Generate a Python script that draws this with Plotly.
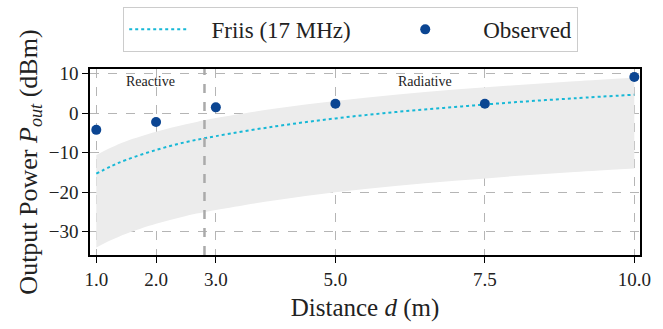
import plotly.graph_objects as go

# ---- data ----
model_d = [1.0, 1.25, 1.5, 2.0, 2.5, 3.0, 4.0, 5.0, 6.0, 7.0, 8.0, 9.0, 10.0]
friis_dbm = [-15.3, -13.4, -11.8, -9.3, -7.3, -5.8, -3.3, -1.3, 0.3, 1.6, 2.8, 3.8, 4.7]
band_upper = [-10.6, -8.7, -7.1, -4.7, -2.8, -1.2, 1.2, 3.1, 4.7, 6.0, 7.1, 8.1, 9.0]
band_lower = [-34.0, -32.1, -30.5, -28.0, -26.0, -24.5, -22.0, -20.0, -18.4, -17.1, -15.9, -14.9, -14.0]

obs_d = [1.0, 2.0, 3.0, 5.0, 7.5, 10.0]
obs_dbm = [-4.2, -2.2, 1.5, 2.4, 2.4, 9.2]

boundary_d = 2.81
x_ticks = [1.0, 2.0, 3.0, 5.0, 7.5, 10.0]
x_tick_labels = ["1.0", "2.0", "3.0", "5.0", "7.5", "10.0"]
y_ticks = [10, 0, -10, -20, -30]
y_tick_labels = ["10", "0", "\u221210", "\u221220", "\u221230"]

FONT = "Liberation Serif"
NB = "\u00a0"

fig = go.Figure()
fig.add_trace(go.Scatter(x=model_d, y=band_upper, mode="lines", line=dict(width=0, shape="spline"),
                         showlegend=False, hoverinfo="skip"))
fig.add_trace(go.Scatter(x=model_d, y=band_lower, mode="lines", line=dict(width=0, shape="spline"),
                         fill="tonexty", fillcolor="#ececec", showlegend=False, hoverinfo="skip"))
fig.add_trace(go.Scatter(x=model_d, y=friis_dbm, mode="lines",
                         name=NB * 3 + "Friis (17 MHz)" + NB * 6,
                         line=dict(color="#17b8d6", width=2, dash="dot", shape="spline")))
fig.add_trace(go.Scatter(x=obs_d, y=obs_dbm, mode="markers", name=NB * 4 + "Observed",
                         marker=dict(color="#0b4592", size=10, line=dict(width=0)),
                         cliponaxis=False))

fig.add_shape(type="line", x0=boundary_d, x1=boundary_d, y0=0, y1=1, xref="x", yref="paper",
              line=dict(color="#aaaaaa", width=2.5, dash="dash"))

fig.add_annotation(x=1.9, y=8.1, text="Reactive", showarrow=False, xref="x", yref="y",
                   font=dict(family=FONT, size=14, color="#222"))
fig.add_annotation(x=6.5, y=8.1, text="Radiative", showarrow=False, xref="x", yref="y",
                   font=dict(family=FONT, size=14, color="#222"))

fig.update_layout(
    width=663, height=329,
    margin=dict(l=90, r=14, t=66, b=59),
    paper_bgcolor="white", plot_bgcolor="white",
    font=dict(family=FONT, size=19, color="#222"),
    showlegend=True,
    legend=dict(orientation="h", x=0.474, xanchor="center", y=0.979, yref="container", yanchor="top",
                bordercolor="#cccccc", borderwidth=1, bgcolor="white",
                font=dict(family=FONT, size=23, color="#222"),
                itemwidth=60, traceorder="normal"),
    xaxis=dict(range=[0.895, 10.095], tickvals=x_ticks, ticktext=x_tick_labels,
               showgrid=True, gridcolor="#b5b5b5", griddash="dash", gridwidth=1,
               showline=True, linecolor="black", linewidth=1.5, mirror=True,
               ticks="outside", ticklen=6, tickcolor="black", zeroline=False,
               title=dict(text="Distance <i>d</i> (m)", font=dict(family=FONT, size=25), standoff=10)),
    yaxis=dict(range=[-35.9, 11.2], tickvals=y_ticks, ticktext=y_tick_labels,
               showgrid=True, gridcolor="#b5b5b5", griddash="dash", gridwidth=1,
               showline=True, linecolor="black", linewidth=1.5, mirror=True,
               ticks="outside", ticklen=6, tickcolor="black", zeroline=False,
               title=dict(text="Output Power <i>P</i><sub><i>out</i></sub> (dBm)",
                          font=dict(family=FONT, size=26), standoff=4)),
)

fig.write_html("out.html")
